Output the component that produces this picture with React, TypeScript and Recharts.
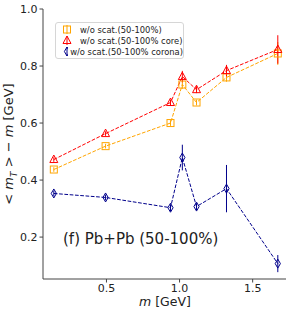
import React from "react";
import {
  ComposedChart,
  Line,
  XAxis,
  YAxis,
  ErrorBar,
} from "recharts";

// particle masses [GeV]
const masses = [0.14, 0.494, 0.938, 1.019, 1.116, 1.321, 1.672];

const allMt = [0.437, 0.519, 0.6, 0.735, 0.672, 0.76, 0.844];
const allErr = [0.008, 0.008, 0.01, 0.015, 0.01, 0.015, 0.04];

const coreMt = [0.472, 0.563, 0.672, 0.763, 0.717, 0.784, 0.858];
const coreErr = [0.008, 0.008, 0.01, 0.02, 0.012, 0.02, 0.05];

const coronaMt = [0.353, 0.339, 0.303, 0.479, 0.307, 0.37, 0.107];
const coronaErr = [0.01, 0.01, 0.012, 0.045, 0.012, 0.083, 0.03];

const seriesNames = [
  "w/o scat.(50-100%)",
  "w/o scat.(50-100% core)",
  "w/o scat.(50-100% corona)",
];
const seriesColors = ["#ffa500", "#ff0000", "#00008b"];

const xTicks = [0.5, 1.0, 1.5];
const yTicks = [0.2, 0.4, 0.6, 0.8, 1.0];

const toRows = (ys: number[], errs: number[]) =>
  masses.map((m, i) => ({ m, y: ys[i], err: errs[i] }));

const seriesData = [
  toRows(allMt, allErr),
  toRows(coreMt, coreErr),
  toRows(coronaMt, coronaErr),
];

function Marker({ kind, cx, cy, color }: any) {
  if (cx == null || cy == null) return null;
  if (kind === 0) {
    return (
      <rect x={cx - 3.5} y={cy - 3.5} width={7} height={7} fill="none" stroke={color} strokeWidth={1} />
    );
  }
  if (kind === 1) {
    return (
      <polygon
        points={`${cx},${cy - 4.5} ${cx + 4},${cy + 3} ${cx - 4},${cy + 3}`}
        fill="none"
        stroke={color}
        strokeWidth={1}
      />
    );
  }
  return (
    <polygon
      points={`${cx},${cy - 4.5} ${cx + 2.6},${cy} ${cx},${cy + 4.5} ${cx - 2.6},${cy}`}
      fill="none"
      stroke={color}
      strokeWidth={1}
    />
  );
}

export default function App() {
  const axisColor = "#444";
  const tickStyle = { fontSize: 11, fill: "#222", fontFamily: "DejaVu Sans" };

  return (
    <div style={{ position: "absolute", left: 0, top: 0, width: 291, height: 315, fontFamily: "DejaVu Sans" }}>
      <ComposedChart width={291} height={315} margin={{ top: 9, right: 5, bottom: 0, left: 0 }}>
        <XAxis
          xAxisId="b"
          type="number"
          dataKey="m"
          domain={[0.066, 1.728]}
          ticks={xTicks}
          allowDataOverflow
          tickFormatter={(v) => v.toFixed(1)}
          height={36}
          tickSize={3.5}
          tick={tickStyle}
          stroke={axisColor}
        />
        <XAxis xAxisId="t" orientation="top" type="number" domain={[0, 1]} height={0} tick={false} stroke={axisColor} />
        <YAxis
          yAxisId="l"
          type="number"
          domain={[0.053, 1.0]}
          ticks={yTicks}
          allowDataOverflow
          tickFormatter={(v) => v.toFixed(1)}
          width={43}
          tickSize={3.5}
          tick={tickStyle}
          stroke={axisColor}
        />
        <YAxis yAxisId="r" orientation="right" type="number" domain={[0, 1]} width={0} tick={false} stroke={axisColor} />
        {seriesData.map((rows, k) => (
          <Line
            key={seriesNames[k]}
            xAxisId="b"
            yAxisId="l"
            data={rows}
            dataKey="y"
            stroke={seriesColors[k]}
            strokeWidth={1}
            strokeDasharray="3.7 1.6"
            isAnimationActive={false}
            dot={(p: any) => <Marker key={p.index} kind={k} cx={p.cx} cy={p.cy} color={seriesColors[k]} />}
            activeDot={false}
          >
            <ErrorBar dataKey="err" direction="y" width={0} stroke={seriesColors[k]} strokeWidth={1} />
          </Line>
        ))}
      </ComposedChart>

      {/* legend */}
      <div
        style={{
          position: "absolute",
          left: 55,
          top: 22,
          width: 127,
          padding: "1px 0",
          border: "1px solid #d6d6d6",
          borderRadius: 3,
          background: "rgba(255,255,255,0.85)",
          fontSize: 8.4,
          color: "#222",
        }}
      >
        {seriesNames.map((name, k) => (
          <div key={name} style={{ display: "flex", alignItems: "center", height: 11 }}>
            <svg width={22} height={11}>
              <line x1={11} y1={1} x2={11} y2={10} stroke={seriesColors[k]} strokeWidth={1} />
              <Marker kind={k} cx={11} cy={5.5} color={seriesColors[k]} />
            </svg>
            <span style={{ marginLeft: 2, whiteSpace: "nowrap" }}>{name}</span>
          </div>
        ))}
      </div>

      {/* annotation */}
      <div style={{ position: "absolute", left: 63, top: 230, fontSize: 15, color: "#222", whiteSpace: "nowrap" }}>
        (f) Pb+Pb (50-100%)
      </div>

      {/* x label */}
      <div
        style={{
          position: "absolute",
          left: 165,
          top: 294,
          transform: "translateX(-50%)",
          fontSize: 12.5,
          color: "#222",
          whiteSpace: "nowrap",
        }}
      >
        <i>m</i> [GeV]
      </div>

      {/* y label */}
      <div
        style={{
          position: "absolute",
          left: 10,
          top: 144,
          transform: "translate(-50%, -50%) rotate(-90deg)",
          fontSize: 13,
          color: "#222",
          whiteSpace: "nowrap",
        }}
      >
        &lt; <i>m</i>
        <sub style={{ fontSize: 9 }}>
          <i>T</i>
        </sub>{" "}
        &gt; − <i>m</i> [GeV]
      </div>
    </div>
  );
}
